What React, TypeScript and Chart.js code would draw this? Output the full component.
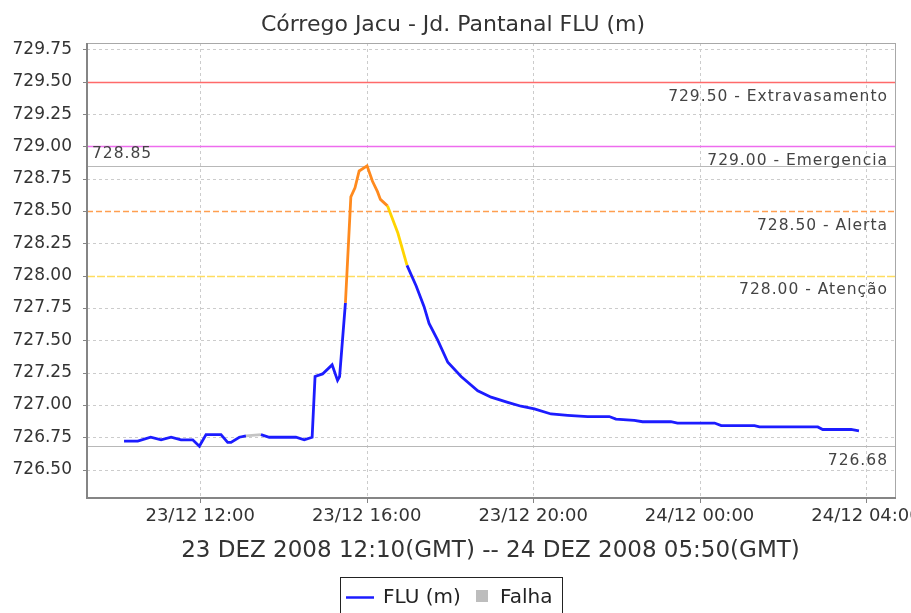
import React, { useEffect, useRef } from 'react';
import { Chart, registerables } from 'chart.js';

Chart.register(...registerables);

// ---- data (hours since 23/12 00:00 local, level in m) ----
const times = [
  10.17, 10.5, 10.81, 11.06, 11.3, 11.54, 11.82, 11.98, 12.14, 12.5, 12.66, 12.74, 12.94, 13.1, 13.46, 13.66,
  14.3, 14.5, 14.69, 14.76, 14.94, 15.17, 15.3, 15.35, 15.49, 15.62, 15.72, 15.82, 16.01, 16.14, 16.26, 16.33,
  16.5, 16.75, 16.97, 17.19, 17.38, 17.5, 17.71, 17.95, 18.27, 18.67, 18.99, 19.39, 19.71, 20.03, 20.43, 20.83,
  21.31, 21.83, 21.99, 22.43, 22.63, 23.31, 23.47, 24.36, 24.52, 25.32, 25.44, 26.84, 26.96, 27.64, 27.83,
];
const levels = [
  726.72, 726.72, 726.75, 726.73, 726.75, 726.73, 726.73, 726.68, 726.77, 726.77, 726.71, 726.71, 726.75, 726.76, 726.77, 726.75,
  726.75, 726.73, 726.75, 727.22, 727.24, 727.31, 727.19, 727.22, 727.79, 728.61, 728.68, 728.81, 728.85, 728.73, 728.65, 728.59,
  728.54, 728.33, 728.08, 727.92, 727.76, 727.63, 727.5, 727.33, 727.22, 727.11, 727.06, 727.02, 726.99, 726.97, 726.93, 726.92,
  726.91, 726.91, 726.89, 726.88, 726.87, 726.87, 726.86, 726.86, 726.84, 726.84, 726.83, 726.83, 726.81, 726.81, 726.8,
];
const falhaStart = [13.1];
const falhaEnd = [13.46];

const thresholdValues = [729.5, 729.0, 728.5, 728.0];
const thresholdLabels = ['729.50 - Extravasamento', '729.00 - Emergencia', '728.50 - Alerta', '728.00 - Atenção'];

const xTickHours = [12, 16, 20, 24, 28];
const xTickLabels = ['23/12 12:00', '23/12 16:00', '23/12 20:00', '24/12 00:00', '24/12 04:00'];

const chartTitle = 'Córrego Jacu - Jd. Pantanal FLU (m)';
const xAxisTitle = '23 DEZ 2008 12:10(GMT) -- 24 DEZ 2008 05:50(GMT)';
const seriesLabel = 'FLU (m)';
const falhaLabel = 'Falha';

// ---- styles ----
const FONT = '"DejaVu Sans", sans-serif';
const BLUE = '#1c1cff';
const ORANGE = '#ff8a1e';
const YELLOW = '#ffd400';
const MAGENTA = '#e05ce0';
const FALHA = '#c4c4c4';
const thresholdColors = ['#ff6a6a', '#ee6cee', '#ff9f50', '#ffdd60'];
const thresholdDashes = [[], [], [6, 3], [8, 2]];
const TEXT = '#333333';

const segColor = (ctx: any) => {
  const x0 = ctx.p0.parsed.x;
  const x1 = ctx.p1.parsed.x;
  for (let i = 0; i < falhaStart.length; i++) {
    if (x0 >= falhaStart[i] - 1e-6 && x1 <= falhaEnd[i] + 1e-6) return FALHA;
  }
  const v = ctx.p1.parsed.y;
  if (v >= thresholdValues[1]) return MAGENTA;
  if (v >= thresholdValues[2]) return ORANGE;
  if (v >= thresholdValues[3]) return YELLOW;
  return BLUE;
};

const decor = {
  id: 'decor',
  beforeDatasetsDraw(chart: any) {
    const { ctx, chartArea: a, scales } = chart;
    const x = scales.x;
    const y = scales.y;
    ctx.save();
    // grid
    ctx.strokeStyle = '#cccccc';
    ctx.lineWidth = 1;
    ctx.setLineDash([3, 3]);
    for (const t of y.ticks) {
      if (thresholdValues.some((v) => Math.abs(v - t.value) < 1e-6)) continue;
      const py = Math.round(y.getPixelForValue(t.value)) + 0.5;
      ctx.beginPath();
      ctx.moveTo(a.left, py);
      ctx.lineTo(a.right, py);
      ctx.stroke();
    }
    for (const t of x.ticks) {
      const px = Math.round(x.getPixelForValue(t.value)) + 0.5;
      ctx.beginPath();
      ctx.moveTo(px, a.top);
      ctx.lineTo(px, a.bottom);
      ctx.stroke();
    }
    // max / min lines
    const maxV = Math.max(...levels);
    const minV = Math.min(...levels);
    ctx.setLineDash([]);
    ctx.strokeStyle = '#b8b8b8';
    ctx.lineWidth = 1.2;
    for (const v of [maxV, minV]) {
      const py = Math.round(y.getPixelForValue(v)) + 0.5;
      ctx.beginPath();
      ctx.moveTo(a.left, py);
      ctx.lineTo(a.right, py);
      ctx.stroke();
    }
    // thresholds
    thresholdValues.forEach((v, i) => {
      const py = Math.round(y.getPixelForValue(v)) + 0.5;
      ctx.strokeStyle = thresholdColors[i];
      ctx.lineWidth = 1.3;
      ctx.setLineDash(thresholdDashes[i]);
      ctx.beginPath();
      ctx.moveTo(a.left, py);
      ctx.lineTo(a.right, py);
      ctx.stroke();
    });
    ctx.setLineDash([]);
    // labels
    ctx.fillStyle = '#444444';
    ctx.font = `15.5px ${FONT}`;
    (ctx as any).letterSpacing = '1px';
    ctx.textAlign = 'right';
    ctx.textBaseline = 'top';
    thresholdValues.forEach((v, i) => {
      const py = y.getPixelForValue(v);
      ctx.fillText(thresholdLabels[i], a.right - 8, py + 7);
    });
    ctx.fillText(minV.toFixed(2), a.right - 8, y.getPixelForValue(minV) + 7);
    ctx.textAlign = 'left';
    ctx.textBaseline = 'alphabetic';
    ctx.fillText(maxV.toFixed(2), a.left + 5, y.getPixelForValue(maxV) - 8);
    (ctx as any).letterSpacing = '0px';
    ctx.restore();
  },
  afterDraw(chart: any) {
    const { ctx, chartArea: a, scales } = chart;
    const x = scales.x;
    const y = scales.y;
    ctx.save();
    // plot border
    ctx.strokeStyle = '#a8a8a8';
    ctx.lineWidth = 1;
    ctx.strokeRect(a.left + 0.5, a.top + 0.5, a.right - a.left - 1, a.bottom - a.top - 1);
    ctx.strokeStyle = '#858585';
    ctx.lineWidth = 2;
    ctx.beginPath();
    ctx.moveTo(a.left, a.top);
    ctx.lineTo(a.left, a.bottom);
    ctx.lineTo(a.right, a.bottom);
    ctx.stroke();
    // tick marks
    ctx.lineWidth = 1;
    for (const t of y.ticks) {
      const py = Math.round(y.getPixelForValue(t.value)) + 0.5;
      ctx.beginPath();
      ctx.moveTo(a.left - 4, py);
      ctx.lineTo(a.left, py);
      ctx.stroke();
    }
    for (const t of x.ticks) {
      const px = Math.round(x.getPixelForValue(t.value)) + 0.5;
      ctx.beginPath();
      ctx.moveTo(px, a.bottom);
      ctx.lineTo(px, a.bottom + 5);
      ctx.stroke();
    }
    // title
    ctx.fillStyle = TEXT;
    ctx.textAlign = 'center';
    ctx.textBaseline = 'alphabetic';
    ctx.font = `22px ${FONT}`;
    ctx.fillText(chartTitle, 453, 31);
    // x axis title
    ctx.font = `23px ${FONT}`;
    ctx.fillText(xAxisTitle, (a.left + a.right) / 2 - 1, 557);
    // legend
    ctx.strokeStyle = '#222222';
    ctx.lineWidth = 1;
    ctx.strokeRect(340.5, 577.5, 222, 50);
    ctx.strokeStyle = BLUE;
    ctx.lineWidth = 2.5;
    ctx.beginPath();
    ctx.moveTo(346, 597.5);
    ctx.lineTo(374, 597.5);
    ctx.stroke();
    ctx.fillStyle = '#bdbdbd';
    ctx.fillRect(476, 590, 12, 12);
    ctx.fillStyle = '#222222';
    ctx.textAlign = 'left';
    ctx.font = `20px ${FONT}`;
    ctx.fillText(seriesLabel, 383, 603);
    ctx.fillText(falhaLabel, 500, 603);
    ctx.restore();
  },
};

export default function App() {
  const ref = useRef<HTMLCanvasElement | null>(null);
  useEffect(() => {
    if (!ref.current) return;
    const chart = new Chart(ref.current, {
      type: 'line',
      data: {
        datasets: [
          {
            label: seriesLabel,
            data: times.map((t, i) => ({ x: t, y: levels[i] })),
            borderColor: BLUE,
            borderWidth: 2.8,
            pointRadius: 0,
            tension: 0,
            fill: false,
            segment: { borderColor: segColor },
          },
        ],
      },
      options: {
        animation: false,
        responsive: false,
        events: [],
        layout: { padding: { left: 0, right: 15, top: 43, bottom: 0 } },
        plugins: {
          legend: { display: false },
          title: { display: false },
          tooltip: { enabled: false },
        },
        scales: {
          x: {
            type: 'linear',
            min: 9.28,
            max: 28.72,
            grid: { display: false, drawTicks: false },
            border: { display: false },
            afterBuildTicks: (s: any) => {
              s.ticks = xTickHours.map((v) => ({ value: v }));
            },
            afterFit: (s: any) => {
              s.height = 115;
              s.paddingLeft = 0;
              s.paddingRight = 0;
            },
            ticks: {
              autoSkip: false,
              maxRotation: 0,
              minRotation: 0,
              padding: 8,
              color: TEXT,
              font: { family: FONT, size: 18 },
              callback: (v: any) => xTickLabels[xTickHours.indexOf(Number(v))] ?? '',
            },
          },
          y: {
            type: 'linear',
            min: 726.28,
            max: 729.8,
            grid: { display: false, drawTicks: false },
            border: { display: false },
            afterFit: (s: any) => {
              s.width = 87;
              s.paddingTop = 0;
              s.paddingBottom = 0;
            },
            ticks: {
              stepSize: 0.25,
              includeBounds: false,
              padding: 15,
              color: TEXT,
              font: { family: FONT, size: 17 },
              callback: (v: any) => Number(v).toFixed(2),
            },
          },
        },
      },
      plugins: [decor],
    } as any);
    return () => chart.destroy();
  }, []);
  return (
    <canvas
      ref={ref}
      width={911}
      height={613}
      style={{ position: 'fixed', left: 0, top: 0, width: 911, height: 613, background: '#ffffff' }}
    />
  );
}
